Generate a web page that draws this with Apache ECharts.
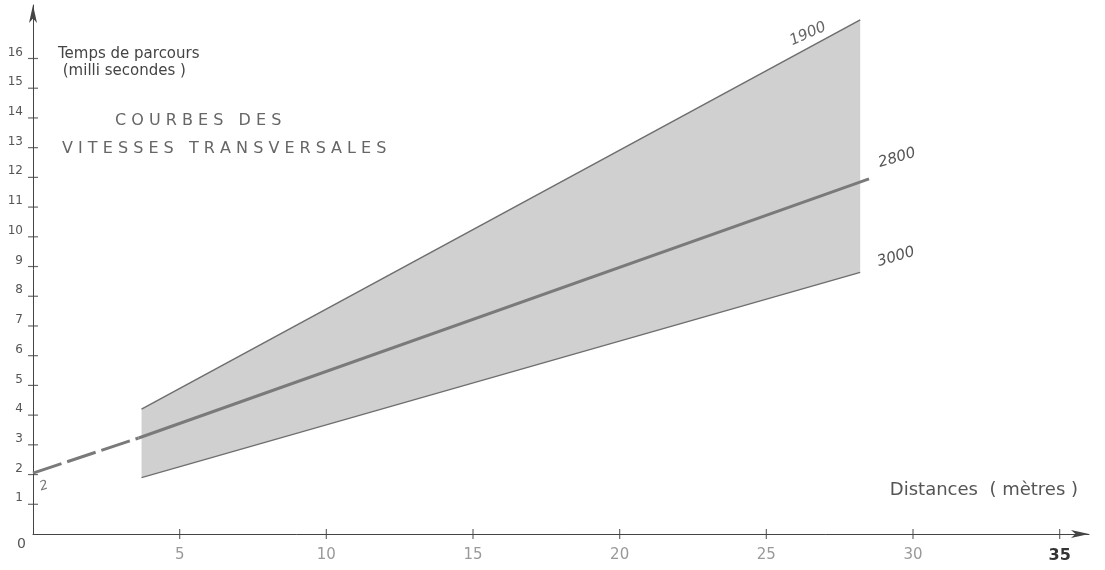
<!DOCTYPE html>
<html><head><meta charset="utf-8">
<script src="https://cdn.jsdelivr.net/npm/echarts@6/dist/echarts.min.js"></script>
<style>html,body{margin:0;padding:0;background:#fff}#c{width:1105px;height:570px}</style>
</head><body><div id="c"></div>
<script>
// ---- data ----
const xTicks = [5, 10, 15, 20, 25, 30, 35];
const yTicks = [1, 2, 3, 4, 5, 6, 7, 8, 9, 10, 11, 12, 13, 14, 15, 16];
const bandX = [3.7, 28.2];          // distance (m) where the band starts / ends
const v1900 = [4.2, 17.3];          // upper curve (1900 m/s)
const v3000 = [1.9, 8.8];           // lower curve (3000 m/s)
const v2800X = [3.6, 28.5];
const v2800 = [3.23, 11.95];        // mean curve (2800 m/s)
const dashX = [0, 3.6];
const dashY = [2.05, 3.23];         // dashed extension of the 2800 curve
const curveNames = ['1900', '2800', '3000'];

const pts = (xs, ys) => xs.map((x, i) => [x, ys[i]]);
const FONT = 'DejaVu Sans';

const chart = echarts.init(document.getElementById('c'), null, {renderer: 'canvas'});

chart.setOption({
  backgroundColor: '#fff',
  animation: false,
  grid: {left: 33, right: 16, top: 5, bottom: 36, containLabel: false, outerBoundsMode: 'none'},
  xAxis: {
    type: 'value', min: 0, max: 36, splitLine: {show: false}, position: 'bottom',
    name: 'Distances  ( mètres )',
    nameLocation: 'end',
    nameGap: -11,
    nameTextStyle: {fontFamily: FONT, fontSize: 18, color: '#555', align: 'right', verticalAlign: 'bottom', padding: [0, 0, 35, 0]},
    axisLine: {show: true, symbol: ['none', 'arrow'], symbolSize: [6, 18], lineStyle: {color: '#444', width: 1}},
    axisTick: {show: false},
    axisLabel: {
      show: true, customValues: xTicks, margin: 14,
      fontFamily: FONT, fontSize: 15, color: '#999',
      formatter: v => v === 35 ? '{b|35}' : String(v),
      rich: {b: {fontFamily: FONT, fontSize: 16, fontWeight: 'bold', color: '#333'}}
    }
  },
  yAxis: {
    type: 'value', min: 0, max: 17.8, splitLine: {show: false}, position: 'left',
    name: 'Temps de parcours\n (milli secondes )',
    nameLocation: 'end',
    nameGap: -41,
    nameTextStyle: {fontFamily: FONT, fontSize: 15, color: '#444', align: 'left', verticalAlign: 'top', lineHeight: 17, padding: [0, 0, 0, 25]},
    axisLine: {show: true, symbol: ['none', 'arrow'], symbolSize: [6, 18], lineStyle: {color: '#444', width: 1}},
    axisTick: {show: false},
    axisLabel: {show: true, customValues: yTicks, margin: 10, fontFamily: FONT, fontSize: 12, color: '#555', verticalAlign: 'bottom'}
  },
  series: [
    {
      type: 'custom',
      name: 'band',
      data: bandX.map((x, i) => [x, v3000[i], v1900[i]]),
      encode: {x: 0, y: [1, 2]},
      renderItem: function (params, api) {
        const i = params.dataIndex;
        if (i >= bandX.length - 1) return null;
        const p = [
          api.coord([bandX[i], v3000[i]]),
          api.coord([bandX[i + 1], v3000[i + 1]]),
          api.coord([bandX[i + 1], v1900[i + 1]]),
          api.coord([bandX[i], v1900[i]])
        ];
        return {type: 'polygon', shape: {points: p}, style: {fill: '#d0d0d0', stroke: 'none'}};
      },
      z: 1
    },
    {type: 'line', name: curveNames[0], data: pts(bandX, v1900), symbol: 'none', lineStyle: {color: '#6e6e6e', width: 1.5}, z: 3},
    {type: 'line', name: curveNames[2], data: pts(bandX, v3000), symbol: 'none', lineStyle: {color: '#6e6e6e', width: 1.3}, z: 3},
    {type: 'line', name: curveNames[1], data: pts(v2800X, v2800), symbol: 'none', lineStyle: {color: '#7a7a7a', width: 3}, z: 3},
    {type: 'line', name: curveNames[1] + ' (prolongement)', data: pts(dashX, dashY), symbol: 'none', lineStyle: {color: '#7a7a7a', width: 3, type: [30, 6]}, z: 3},
    // crossing tick marks on both axes
    {type: 'scatter', name: 'xTicks', data: xTicks.map(x => [x, 0]), symbol: 'rect', symbolSize: [1.2, 10], itemStyle: {color: '#444'}, silent: true, z: 4},
    {type: 'scatter', name: 'yTicks', data: yTicks.map(y => [0, y]), symbol: 'rect', symbolSize: [10, 1.2], itemStyle: {color: '#444'}, silent: true, z: 4}
  ],
  graphic: [
    {type: 'text', left: 17, top: 537, style: {text: '0', font: '14px ' + FONT, fill: '#555'}},
    {type: 'text', x: 44, y: 486, rotation: 0.3, style: {text: '2', font: 'italic 13px ' + FONT, fill: '#777', align: 'center', verticalAlign: 'middle'}},
    {type: 'text', x: 115, y: 121, style: {text: 'C O U R B E S   D E S', font: '16px ' + FONT, fill: '#666', align: 'left', verticalAlign: 'middle'}},
    {type: 'text', x: 62, y: 149, style: {text: 'V I T E S S E S   T R A N S V E R S A L E S', font: '16px ' + FONT, fill: '#666', align: 'left', verticalAlign: 'middle'}},
    {type: 'text', x: 808, y: 34, rotation: 0.42, style: {text: curveNames[0], font: 'italic 15px ' + FONT, fill: '#666', align: 'center', verticalAlign: 'middle'}},
    {type: 'text', x: 897, y: 158, rotation: 0.28, style: {text: curveNames[1], font: 'italic 15px ' + FONT, fill: '#555', align: 'center', verticalAlign: 'middle'}},
    {type: 'text', x: 896, y: 257, rotation: 0.28, style: {text: curveNames[2], font: 'italic 15px ' + FONT, fill: '#555', align: 'center', verticalAlign: 'middle'}}
  ]
});
</script>
</body></html>
